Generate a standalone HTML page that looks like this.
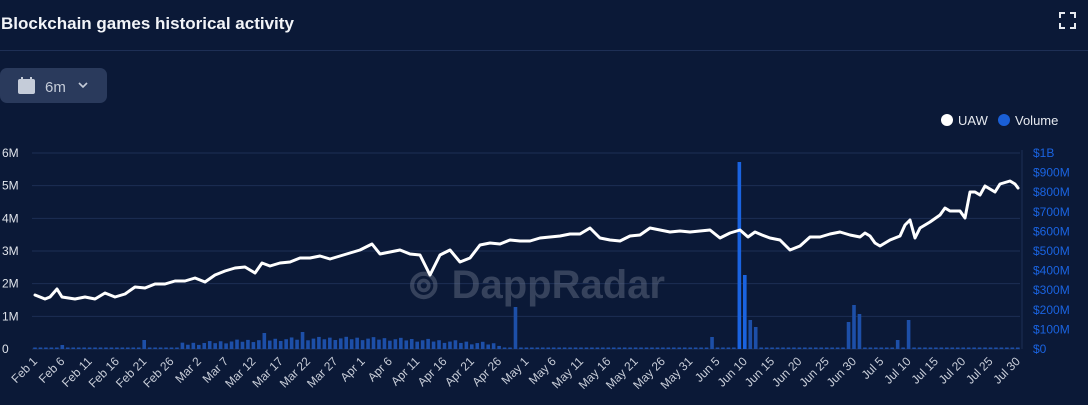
<!DOCTYPE html>
<html><head><meta charset="utf-8"><style>
html,body{margin:0;padding:0;background:#0b1937;width:1088px;height:405px;overflow:hidden;font-family:"Liberation Sans",sans-serif}
</style></head><body>
<svg id="s" width="1088" height="405" xmlns="http://www.w3.org/2000/svg" style="position:absolute;left:0;top:0">
<rect width="1088" height="405" fill="#0b1937"/>
<text x="1" y="29" fill="#f2f4f8" font-size="17" font-weight="bold">Blockchain games historical activity</text>
<g stroke="#e6e9ef" stroke-width="2" fill="none"><path d="M1060 18v-5h5M1070 13h5v5M1075 23v5h-5M1065 28h-5v-5"/></g>
<line x1="0" y1="50.5" x2="1088" y2="50.5" stroke="#1e2f55"/>
<rect x="0" y="68" width="107" height="35" rx="7" fill="#2a3a5c"/>
<rect x="18" y="79" width="17" height="15" rx="2" fill="#c5ccd9"/>
<rect x="21" y="77" width="2" height="4" fill="#c5ccd9"/><rect x="30" y="77" width="2" height="4" fill="#c5ccd9"/>
<text x="45" y="92" fill="#c5ccd9" font-size="15">6m</text>
<path d="M79 83l4 4 4-4" stroke="#c5ccd9" stroke-width="1.6" fill="none"/>
<circle cx="947" cy="120" r="6" fill="#fff"/><text x="958" y="125" fill="#e6e9ef" font-size="13">UAW</text>
<circle cx="1004" cy="120" r="6" fill="#1a5fd6"/><text x="1015" y="125" fill="#e6e9ef" font-size="13">Volume</text>
<g id="grid"></g>
<text x="536" y="298" fill="#6b7589" fill-opacity="0.45" font-size="40" font-weight="bold" text-anchor="middle">⊚ DappRadar</text>
<g id="bars"></g>
<path id="line" fill="none" stroke="#fff" stroke-width="3" stroke-linejoin="round" stroke-linecap="round"/>
<g id="lab"></g>
</svg>
<script>
(function(){
var NS="http://www.w3.org/2000/svg",s=document.getElementById('s');
function el(t,a,p,txt){var e=document.createElementNS(NS,t);for(var k in a)e.setAttribute(k,a[k]);if(txt!=null)e.textContent=txt;(p||s).appendChild(e);return e;}
var g=document.getElementById('grid'),i;
var L=['0','1M','2M','3M','4M','5M','6M'];
for(i=0;i<=6;i++){var y=349-i*32.67;el('line',{x1:32,y1:y,x2:1020,y2:y,stroke:'#1c2e55'},g);
el('text',{x:2,y:y+4,fill:'#dfe3ea','font-size':12},g,L[i]);}
var R=['$0','$100M','$200M','$300M','$400M','$500M','$600M','$700M','$800M','$900M','$1B'];
for(i=0;i<=10;i++){el('text',{x:1033,y:349-i*19.6+4,fill:'#1a63e0','font-size':12},g,R[i]);}
el('line',{x1:1022,y1:150,x2:1022,y2:349,stroke:'#1c2e55'},g);
var b=document.getElementById('bars');
var big={62:345,142:340,263:333,305:332,518:307,713:337,741:162,747:275,752:320,758:327,851:322,856:305,862:314,899:340,910:320};
for(var d=0;d<181;d++){var x=35+d*5.46;var h=1.5;
 if(x>180&&x<500){h=3+6*Math.sin((x-180)/320*Math.PI)+((d*7)%5)*0.8;}
 var best=null;for(var k in big){if(Math.abs(k-x)<2.8)best=big[k];}
 var ty=best?best:349-h;
 el('rect',{x:x-1.8,y:ty,width:3.6,height:349-ty,fill:best&&best<300?'#1a63e0':'#1d4fa8'},b);}
var P=[35,295,45,299,50,297,57,289,62,297,75,299,85,297,95,299,105,293,115,297,125,294,135,287,145,288,155,284,165,284,175,281,185,281,195,278,205,282,215,275,225,271,235,268,245,267,255,273,262,263,270,266,280,263,290,262,300,258,310,258,320,256,330,259,340,256,350,253,360,250,372,244,380,254,390,252,400,250,410,254,420,255,430,275,440,255,450,250,460,262,470,258,480,245,490,243,500,244,510,240,520,241,530,241,540,238,550,237,560,236,570,234,580,234,590,228,600,238,610,240,620,241,630,236,640,235,650,228,660,230,670,232,680,231,690,232,700,231,710,230,720,238,730,233,740,230,748,237,755,232,762,235,770,238,780,240,790,250,800,246,810,237,820,237,830,234,840,232,850,235,860,237,865,233,870,236,875,243,880,246,890,240,900,236,905,225,910,220,915,238,920,228,930,222,940,215,945,208,950,211,960,211,965,218,970,192,975,192,980,195,985,186,995,192,1000,184,1010,181,1015,184,1018,188];
var dd='M'+P[0]+' '+P[1];for(i=2;i<P.length;i+=2)dd+='L'+P[i]+' '+P[i+1];
document.getElementById('line').setAttribute('d',dd);
var X=['Feb 1','Feb 6','Feb 11','Feb 16','Feb 21','Feb 26','Mar 2','Mar 7','Mar 12','Mar 17','Mar 22','Mar 27','Apr 1','Apr 6','Apr 11','Apr 16','Apr 21','Apr 26','May 1','May 6','May 11','May 16','May 21','May 26','May 31','Jun 5','Jun 10','Jun 15','Jun 20','Jun 25','Jun 30','Jul 5','Jul 10','Jul 15','Jul 20','Jul 25','Jul 30'];
var lb=document.getElementById('lab');
for(i=0;i<X.length;i++){var xx=35+i*27.3;el('text',{x:xx+3,y:362,fill:'#c8cdd8','font-size':12,'text-anchor':'end',transform:'rotate(-45 '+(xx+3)+' 362)'},lb,X[i]);}
})();
</script>
</body></html>
